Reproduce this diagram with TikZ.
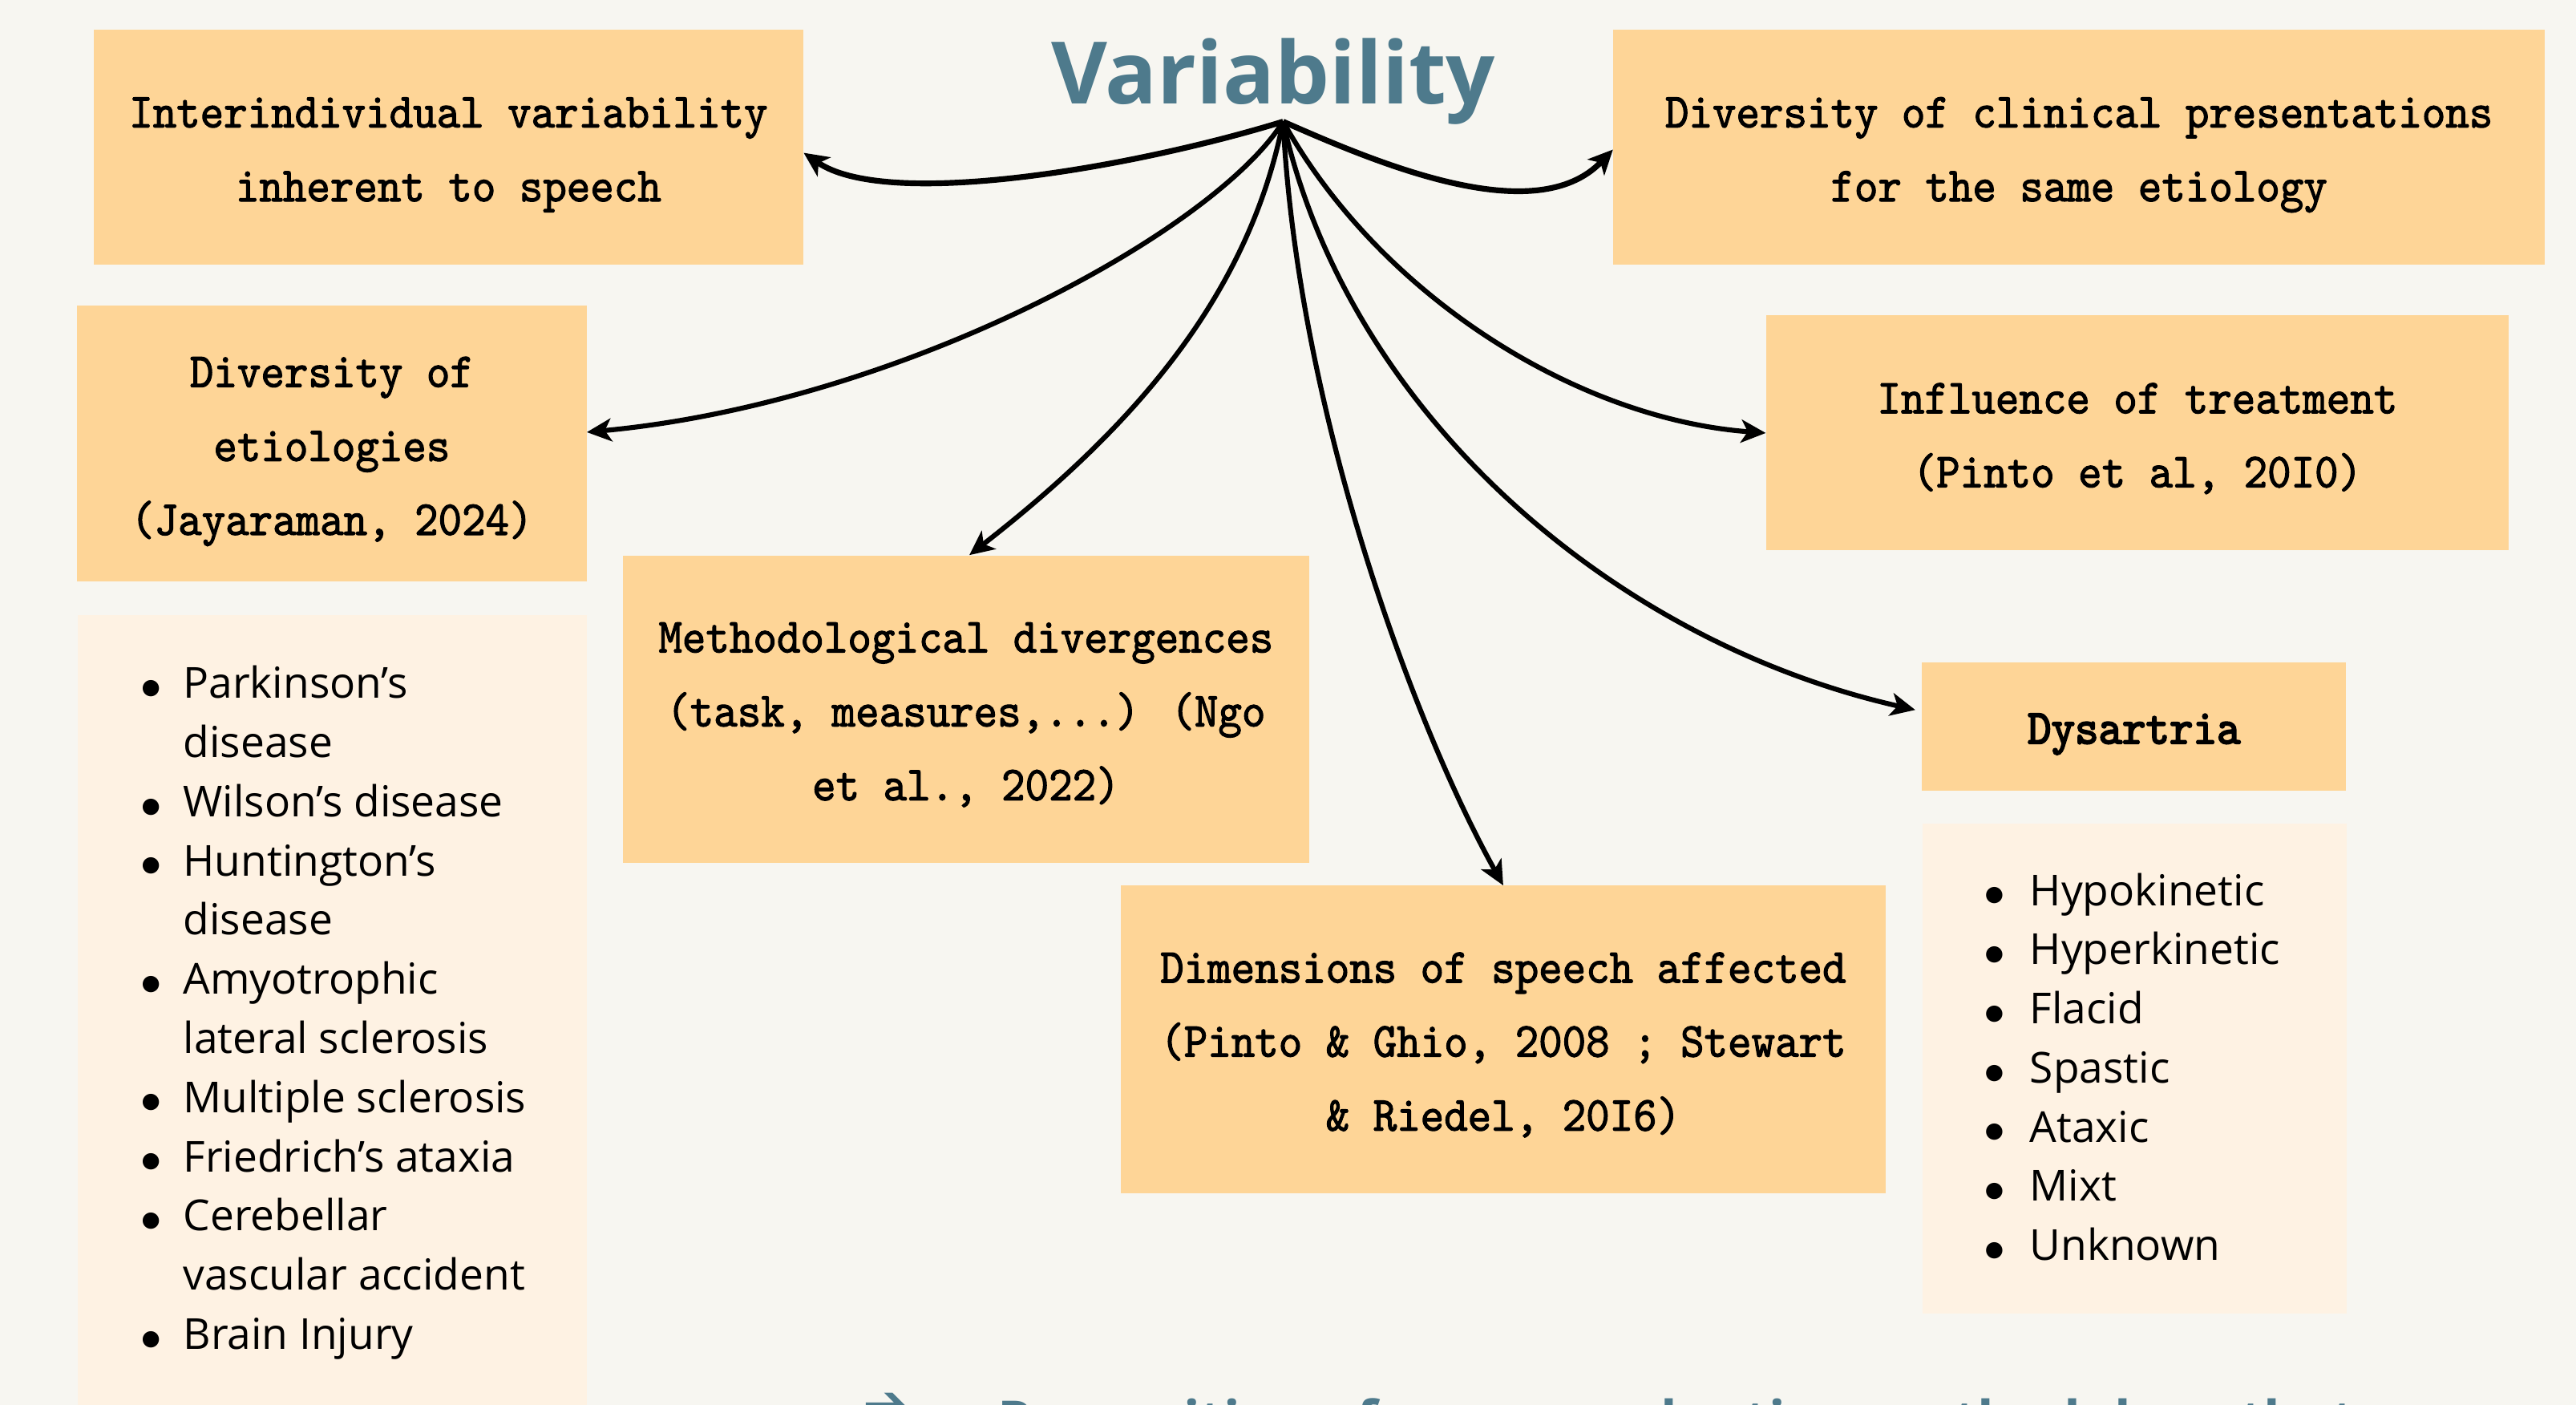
\documentclass[tikz,border=0pt]{standalone}
\usepackage{fontspec}
\usetikzlibrary{arrows.meta}
\newfontfamily\osans{Open Sans}
\newfontfamily\tw{lmmono10-regular.otf}[FakeBold=1.8,FakeStretch=0.92]
\newfontfamily\twb{lmmono10-regular.otf}[FakeBold=3.2,FakeStretch=0.92]
\newfontfamily\symb{DejaVu Sans}
\definecolor{bg}{HTML}{F7F6F1}
\definecolor{peach}{HTML}{FED597}
\definecolor{cream}{HTML}{FEF2E3}
\definecolor{titleblue}{HTML}{4E7A8C}
\newcommand\tops{\rule{0pt}{30pt}}
\newcommand\bots{\rule[-9pt]{0pt}{9pt}}
\newcommand\bul{\raisebox{2.6pt}{\symb\fontsize{13}{13}\selectfont ●}}
\tikzset{
  box/.style={fill=peach, draw=none, inner sep=0pt, align=center,
    font=\tw\fontsize{29.8}{45}\selectfont},
  listbox/.style={fill=cream, draw=none, inner sep=0pt},
  listtext/.style={inner sep=0pt, anchor=base west,
    font=\osans\fontsize{26}{36}\selectfont},
  conn/.style={line width=3pt, -{Stealth[length=15pt,width=14pt,inset=4pt]}},
}
\begin{document}
\begin{tikzpicture}[x=1pt,y=1pt]
\clip (0,0) rectangle (1568,-855);
\fill[bg] (0,0) rectangle (1568,-855);

% title
\node[font=\osans\bfseries\fontsize{52.5}{60}\selectfont, text=titleblue,
  anchor=base, inner sep=0pt] (title) at (775,-63) {Variability};
\coordinate (hub) at (781,-74);

% boxes
\node[box, minimum width=432pt, minimum height=143pt] (inter) at (273,-89.5)
  {\tops Interindividual variability\\inherent to speech\bots};
\node[box, minimum width=567pt, minimum height=143pt] (clin) at (1265.5,-89.5)
  {\tops Diversity of clinical presentations\\for the same etiology\bots};
\node[box, minimum width=310pt, minimum height=168pt] (etio) at (202,-270)
  {\tops Diversity of\\etiologies\\(Jayaraman, 2024)\bots};
\node[box, minimum width=452pt, minimum height=143pt] (treat) at (1301,-263.5)
  {\tops Influence of treatment\\(Pinto et al, 20I0)\bots};
\node[box, minimum width=418pt, minimum height=187pt] (meth) at (588,-431.5)
  {\tops Methodological divergences\\(task, measures,...) (Ngo\\et al., 2022)\bots};
\node[box, minimum width=258pt, minimum height=78pt,
  font=\twb\fontsize{29.8}{45}\selectfont] (dys) at (1299,-442)
  {\tops Dysartria\bots};
\node[box, minimum width=466pt, minimum height=187pt] (dims) at (915,-632.5)
  {\tops Dimensions of speech affected\\(Pinto \& Ghio, 2008 ; Stewart\\\& Riedel, 20I6)\bots};

% list boxes
\node[listbox, minimum width=310pt, minimum height=496pt, anchor=north west]
  (etiolist) at (47,-374) {};
\node[listbox, minimum width=258pt, minimum height=298pt, anchor=north west]
  (dyslist) at (1170,-501) {};

\node[listtext] (etioitems) at (86,-425)
  {\begin{tabular}[t]{@{}l@{\hspace{14pt}}l@{}}
   \bul & Parkinson’s\\
        & disease\\
   \bul & Wilson’s disease\\
   \bul & Huntington’s\\
        & disease\\
   \bul & Amyotrophic\\
        & lateral sclerosis\\
   \bul & Multiple sclerosis\\
   \bul & Friedrich’s ataxia\\
   \bul & Cerebellar\\
        & vascular accident\\
   \bul & Brain Injury
   \end{tabular}};
\node[listtext] (dysitems) at (1208,-551)
  {\begin{tabular}[t]{@{}l@{\hspace{16pt}}l@{}}
   \bul & Hypokinetic\\
   \bul & Hyperkinetic\\
   \bul & Flacid\\
   \bul & Spastic\\
   \bul & Ataxic\\
   \bul & Mixt\\
   \bul & Unknown
   \end{tabular}};

% connectors
\draw[conn, line width=3.5pt] (hub) .. controls (690,-102) and (540,-128) .. ([yshift=-3.5pt]inter.east);
\draw[conn, line width=3.5pt] (hub) .. controls (840,-100) and (935,-140) .. ([yshift=-1.5pt]clin.west);
\draw[conn] (hub) .. controls (740,-140) and (550,-245) .. ([yshift=7pt]etio.east);
\draw[conn] (hub) .. controls (760,-180) and (690,-260) .. ([xshift=2pt]meth.north);
\draw[conn] (hub) .. controls (790,-250) and (860,-440) .. (dims.north);
\draw[conn] (hub) .. controls (840,-180) and (960,-255) .. (treat.west);
\draw[conn] (hub) .. controls (820,-250) and (980,-390) .. ([xshift=-4pt,yshift=10pt]dys.west);

% bottom text (cut off by the frame, as in the reference)
\node[inner sep=0pt, anchor=base west, text=titleblue,
  font=\symb\bfseries\fontsize{33}{38}\selectfont] (botarrow) at (525,-866) {➔};
\node[inner sep=0pt, anchor=base west, text=titleblue,
  font=\osans\bfseries\fontsize{33}{38}\selectfont] (bottext) at (607,-876)
  {Proposition of a new evaluation methodology that};
\end{tikzpicture}
\end{document}
